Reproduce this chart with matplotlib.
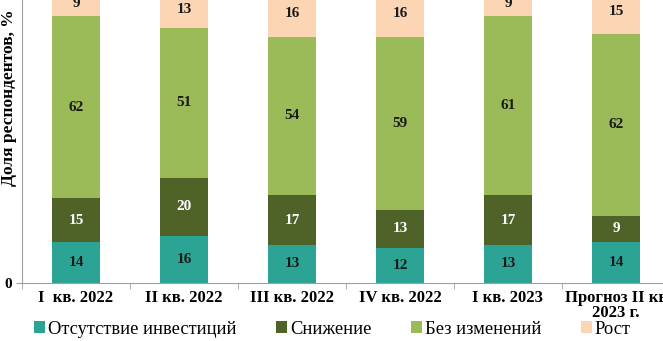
import matplotlib
matplotlib.use("Agg")
import matplotlib.pyplot as plt
import numpy as np

plt.rcParams['font.family'] = ['Liberation Serif', 'DejaVu Serif']

categories = ["I  кв. 2022", "II кв. 2022", "III кв. 2022", "IV кв. 2022", "I кв. 2023", "Прогноз II кв\n2023 г."]
series_names = ["Отсутствие инвестиций", "Снижение", "Без изменений", "Рост"]
no_invest = [14, 16, 13, 12, 13, 14]
decrease = [15, 20, 17, 13, 17, 9]
no_change = [62, 51, 54, 59, 61, 62]
growth = [9, 13, 16, 16, 9, 15]

colors = ["#2ca495", "#4f6228", "#9bbb59", "#fcd5b5"]
text_colors = ["#1a1a1a", "white", "#1a1a1a", "#1a1a1a"]

fig = plt.figure(figsize=(6.63, 3.41), dpi=100)
ax = fig.add_axes([22/663, 58/341, 648/663, 293/341])

x = np.arange(len(categories))
bottom = np.zeros(len(categories))
series = [no_invest, decrease, no_change, growth]
for vals, name, c, tc in zip(series, series_names, colors, text_colors):
    v = np.array(vals, dtype=float)
    ax.bar(x, v, bottom=bottom, width=0.45, color=c, label=name)
    for xi, b, h in zip(x, bottom, v):
        ax.text(xi, b + h / 2, f"{int(h)}", ha="center", va="center",
                fontsize=11, fontweight="bold", color=tc)
    bottom += v

ax.set_xlim(-0.5, len(categories) - 0.5)
ax.set_ylim(0, 100)
ax.set_xticks(x)
ax.set_xticklabels(categories, fontsize=12, fontweight="bold", linespacing=0.9)
ax.set_xticks(np.arange(-0.5, len(categories), 1), minor=True)
ax.tick_params(axis="x", which="major", length=0, pad=5)
ax.tick_params(axis="x", which="minor", length=4, color="#a0a0a0")
ax.set_yticks([0])
ax.set_yticklabels(["0"], fontsize=11, fontweight="bold")
ax.tick_params(axis="y", length=4, color="#a0a0a0")
for s in ["top", "right"]:
    ax.spines[s].set_visible(False)
ax.spines["left"].set_color("#a0a0a0")
ax.spines["bottom"].set_color("#a0a0a0")

fig.text(9/663, 1 - 98/341, "Доля респондентов, %", rotation=90,
         ha="center", va="center", fontsize=12.5, fontweight="bold")

handles, labels = ax.get_legend_handles_labels()
fig.legend(handles, labels, loc="center", bbox_to_anchor=(0.5015, 1 - 329/341),
           ncol=4, frameon=False, fontsize=13.3, handlelength=0.6, handleheight=0.6,
           handletextpad=0.15, columnspacing=2.15, borderpad=0)

fig.savefig("out.png", dpi=100)
